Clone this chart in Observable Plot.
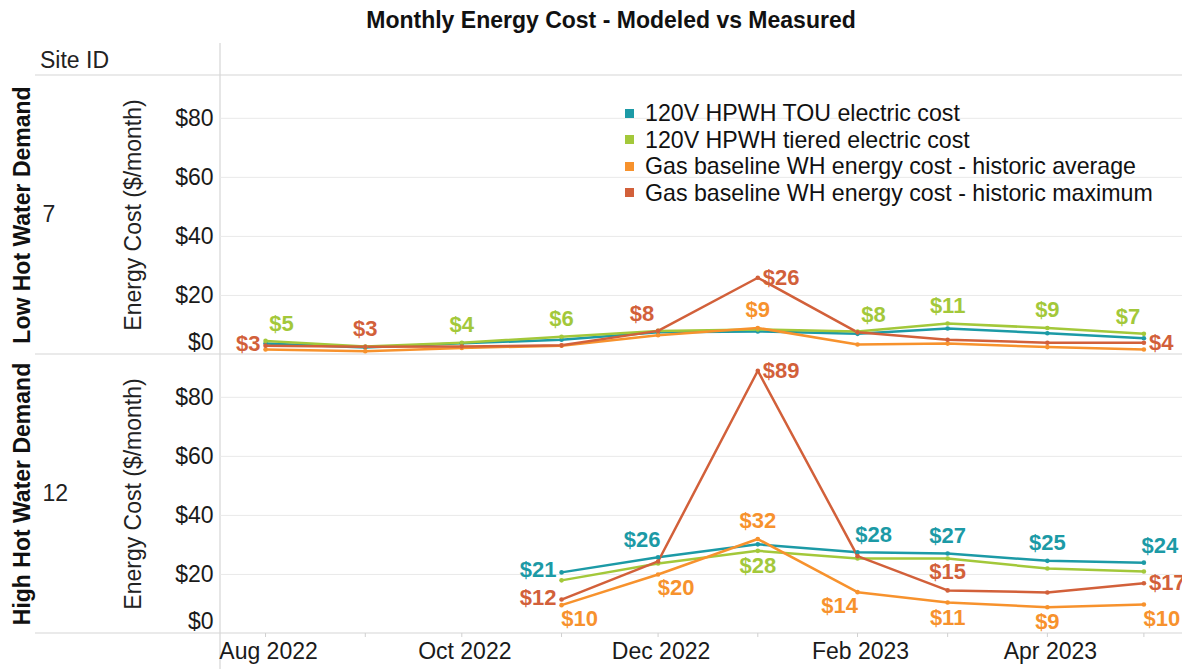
<!DOCTYPE html>
<html>
<head>
<meta charset="utf-8">
<script src="https://cdn.jsdelivr.net/npm/d3@7"></script>
<script src="https://cdn.jsdelivr.net/npm/@observablehq/plot@0.6"></script>
<style>
  body { margin: 0; background: #fff; font-family: "Liberation Sans", Arial, sans-serif; }
  #wrap { position: relative; width: 1182px; height: 669px; overflow: hidden; background: #fff; }
  #title { position: absolute; left: 40px; width: 1142px; top: 7px; text-align: center; font-weight: bold; font-size: 23px; line-height: 26px; color: #111; }
  #siteHdr { position: absolute; left: 40px; top: 47px; font-size: 23px; line-height: 26px; color: #222; }
  #plot { position: absolute; left: 0; top: 40px; }
  #legend { position: absolute; left: 625px; top: 100px; font-size: 23.2px; line-height: 26.5px; color: #111; z-index: 2; }
  .row { display: flex; align-items: center; white-space: nowrap; }
  .sw { width: 9px; height: 9px; margin-right: 11px; flex: none; }
</style>
</head>
<body>
<div id="wrap">
  <div id="title">Monthly Energy Cost - Modeled vs Measured</div>
  <div id="siteHdr">Site ID</div>
  <div id="plot"></div>
  <div id="legend"></div>
</div>
<script>
// ---------- data ----------
const months = ["2022-08-01","2022-09-01","2022-10-01","2022-11-01","2022-12-01",
                "2023-01-01","2023-02-01","2023-03-01","2023-04-01","2023-05-01"];
const seriesKeys = ["tou", "tiered", "gasAvg", "gasMax"];
const seriesNames = [
  "120V HPWH TOU electric cost",
  "120V HPWH tiered electric cost",
  "Gas baseline WH energy cost - historic average",
  "Gas baseline WH energy cost - historic maximum"
];
const seriesColors = ["#1c9aa6", "#a3c83a", "#f7922d", "#d2603a"];
const sites = ["7", "12"];
const siteGroups = ["Low Hot Water Demand", "High Hot Water Demand"];
const xTickMonths = ["2022-08-01","2022-10-01","2022-12-01","2023-02-01","2023-04-01"];
const yTicks = [20, 40, 60, 80];

// Site 7 (Aug 2022 - May 2023)
const tou7    = [3.7, 2.4, 3.8, 5.0, 7.5, 7.8, 7.0, 8.8, 7.2, 5.5];
const tiered7 = [4.6, 2.7, 4.0, 6.0, 8.0, 8.5, 7.8, 10.5, 9.0, 7.0];
const gasAvg7 = [1.7, 1.1, 2.2, 3.0, 6.5, 9.0, 3.4, 3.7, 2.5, 1.7];
const gasMax7 = [3.0, 2.6, 2.7, 3.1, 8.0, 26.0, 7.5, 5.0, 4.0, 4.0];
// Site 12 (Nov 2022 - May 2023)
const tou12    = [null, null, null, 20.7, 25.8, 30.2, 27.5, 27.1, 24.6, 24.0];
const tiered12 = [null, null, null, 18.0, 23.7, 28.0, 25.4, 25.4, 22.0, 21.0];
const gasAvg12 = [null, null, null, 9.6, 20.0, 32.0, 14.0, 10.5, 8.9, 9.8];
const gasMax12 = [null, null, null, 11.5, 24.4, 89.0, 26.2, 14.6, 13.9, 17.0];

// labelled points: [site, series key, month, placement]
const labelSpecs = [
  ["7","gasMax","2022-08-01","left"],
  ["7","tiered","2022-08-01","above-right"],
  ["7","gasMax","2022-09-01","above"],
  ["7","tiered","2022-10-01","above"],
  ["7","tiered","2022-11-01","above"],
  ["7","gasMax","2022-12-01","above-left"],
  ["7","gasMax","2023-01-01","right"],
  ["7","gasAvg","2023-01-01","above"],
  ["7","tiered","2023-02-01","above-right"],
  ["7","tiered","2023-03-01","above"],
  ["7","tiered","2023-04-01","above"],
  ["7","tiered","2023-05-01","above-left"],
  ["7","gasMax","2023-05-01","right"],
  ["12","tou","2022-11-01","left"],
  ["12","gasMax","2022-11-01","left"],
  ["12","gasAvg","2022-11-01","below-right"],
  ["12","tou","2022-12-01","above-left"],
  ["12","gasAvg","2022-12-01","below-right"],
  ["12","gasAvg","2023-01-01","above"],
  ["12","tiered","2023-01-01","below"],
  ["12","gasMax","2023-01-01","right"],
  ["12","tou","2023-02-01","above-right"],
  ["12","gasAvg","2023-02-01","below-left"],
  ["12","tou","2023-03-01","above"],
  ["12","gasMax","2023-03-01","above"],
  ["12","gasAvg","2023-03-01","below"],
  ["12","tou","2023-04-01","above"],
  ["12","gasAvg","2023-04-01","below"],
  ["12","tou","2023-05-01","above-right"],
  ["12","gasMax","2023-05-01","right"],
  ["12","gasAvg","2023-05-01","below-right"]
];

// ---------- build table ----------
const valuesBySite = {
  "7":  [tou7, tiered7, gasAvg7, gasMax7],
  "12": [tou12, tiered12, gasAvg12, gasMax12]
};
const rows = [];
sites.forEach(s => valuesBySite[s].forEach((arr, i) => arr.forEach((v, j) => {
  if (v != null) rows.push({site: s, key: seriesKeys[i], series: seriesNames[i], date: new Date(months[j]), value: v});
})));
const labelRows = labelSpecs.map(([s, k, m, p]) => {
  const r = rows.find(d => d.site === s && d.key === k && +d.date === +new Date(m));
  return {...r, placement: p, text: "$" + Math.round(r.value)};
});
const groupRows = sites.map((s, i) => ({site: s, group: siteGroups[i]}));

const placements = {
  "above":       {dx: 0,   dy: -18, textAnchor: "middle"},
  "below":       {dx: 0,   dy: 15,  textAnchor: "middle"},
  "above-right": {dx: 16,  dy: -17, textAnchor: "middle"},
  "above-left":  {dx: -16, dy: -17, textAnchor: "middle"},
  "below-right": {dx: 18,  dy: 14,  textAnchor: "middle"},
  "below-left":  {dx: -18, dy: 14,  textAnchor: "middle"},
  "left":        {dx: -5,  dy: -2,  textAnchor: "end"},
  "right":       {dx: 5,   dy: 0,   textAnchor: "start"}
};
const labelMarks = Object.entries(placements).map(([p, o]) =>
  Plot.text(labelRows.filter(d => d.placement === p), {
    x: "date", y: "value", fy: "site", text: "text", fill: "series",
    fontWeight: "bold", fontSize: 22, ...o
  })
);

const W = 1182, H = 629, mT = 35, mB = 36, mL = 220;
const monthlyTicks = d3.utcMonth.range(new Date("2022-08-01"), new Date("2023-05-02"));

const plot = Plot.plot({
  width: W, height: H,
  marginLeft: mL, marginRight: 0, marginTop: mT, marginBottom: mB,
  x: {type: "utc", domain: [new Date("2022-07-18"), new Date("2023-05-13")]},
  y: {domain: [0, 94.5]},
  fy: {domain: sites, axis: null, padding: 0},
  color: {domain: seriesNames, range: seriesColors},
  style: {fontFamily: "'Liberation Sans', Arial, sans-serif", fontSize: "23px", color: "#1a1a1a", background: "transparent"},
  marks: [
    Plot.gridY({ticks: yTicks, stroke: "#e9e9e9", strokeOpacity: 1}),
    Plot.axisY({ticks: yTicks, tickSize: 0, tickPadding: 7, tickFormat: d => "$" + d, label: null}),
    Plot.axisY({ticks: [0], tickSize: 0, tickPadding: 7, tickFormat: d => "$" + d, label: null, dy: -12}),
    Plot.axisX({ticks: monthlyTicks, tickSize: 4, stroke: "#d0d0d0", fill: "none", label: null}),
    Plot.axisX({ticks: xTickMonths.map(d => new Date(d)), tickSize: 0, tickPadding: 9,
                tickFormat: d3.utcFormat("%b %Y"), label: null, dx: 3}),
    Plot.text(groupRows, {fy: "site", text: "group", frameAnchor: "left", dx: -198, rotate: -90, textAnchor: "middle", fontWeight: "bold", fill: "#111"}),
    Plot.text(groupRows, {fy: "site", text: "site", frameAnchor: "left", dx: -178, textAnchor: "start", fill: "#222"}),
    Plot.text(groupRows, {fy: "site", text: () => "Energy Cost ($/month)", frameAnchor: "left", dx: -87, rotate: -90, textAnchor: "middle", fill: "#222"}),
    Plot.line(rows, {x: "date", y: "value", z: "series", stroke: "series", fy: "site", strokeWidth: 2.5}),
    Plot.dot(rows, {x: "date", y: "value", fill: "series", fy: "site", r: 2.3}),
    ...labelMarks
  ]
});
document.getElementById("plot").appendChild(plot);

// table chrome: header / row separators and the vertical divider
const facetH = (H - mT - mB) / sites.length;
const chrome = d3.select(plot).insert("g", ":first-child").attr("stroke", "#d6d6d6").attr("stroke-width", 1.2);
[mT, mT + facetH, mT + 2 * facetH].forEach(y => {
  chrome.append("line").attr("x1", 35).attr("x2", W).attr("y1", y).attr("y2", y);
});
chrome.append("line").attr("x1", mL).attr("x2", mL).attr("y1", 3).attr("y2", H);

// legend
const legend = d3.select("#legend");
seriesNames.forEach((n, i) => {
  const row = legend.append("div").attr("class", "row");
  row.append("div").attr("class", "sw").style("background", seriesColors[i]);
  row.append("span").text(n);
});
</script>
</body>
</html>
